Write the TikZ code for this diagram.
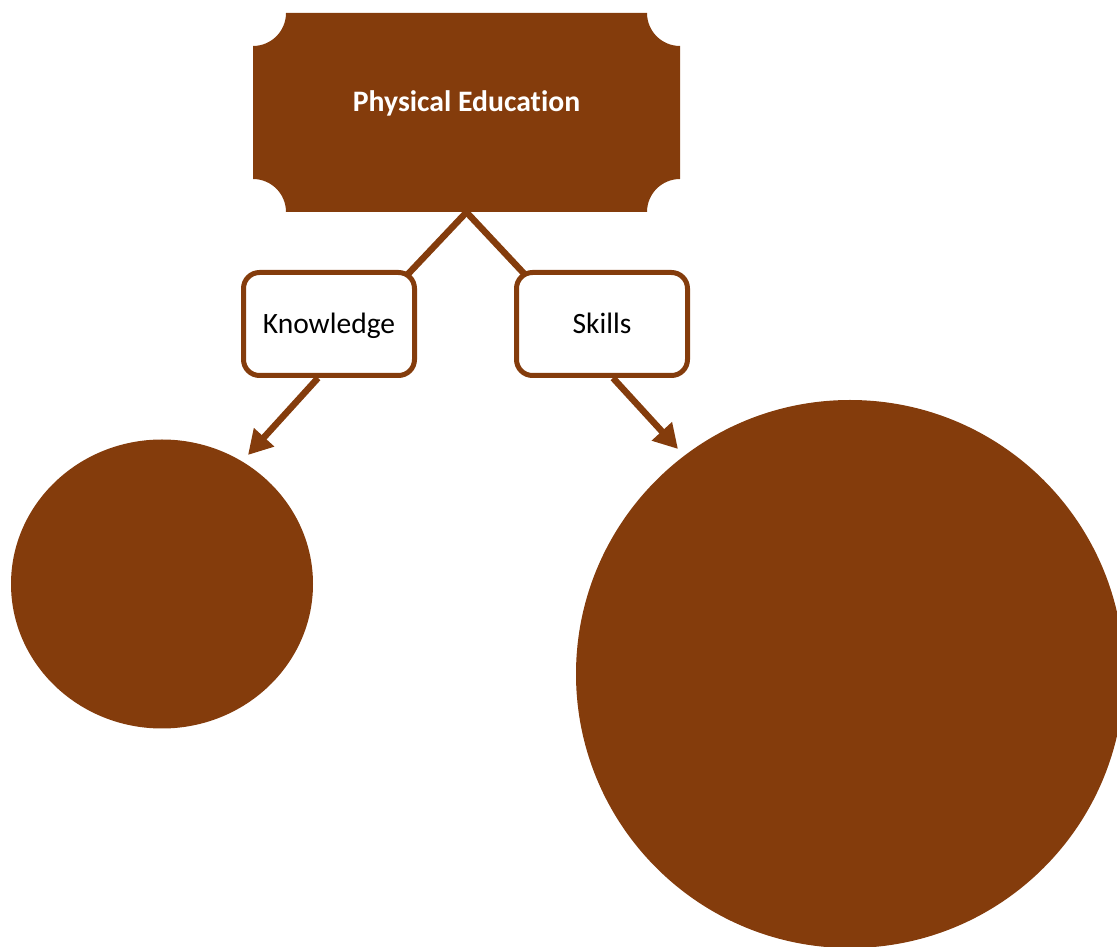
\documentclass[tikz,border=0pt]{standalone}
\usepackage{fontspec}
\setmainfont{Carlito}[Ligatures=NoCommon]
\usetikzlibrary{arrows.meta,calc,shapes.geometric}
\definecolor{brown}{HTML}{843C0C}
\tikzset{
  link/.style={draw=brown, line width=6.5pt},
  arrowlink/.style={draw=brown, line width=6.5pt, -{Triangle[length=24pt,width=26pt]}},
  labelbox/.style={draw=brown, fill=white, line width=5pt, rounded corners=16pt,
    minimum width=171pt, minimum height=103pt, inner sep=0pt,
    text height=26pt, text depth=6pt,
    font=\fontsize{29.5}{34}\selectfont, text=black},
  titletext/.style={font=\fontsize{29.7}{34}\selectfont\bfseries, text=white, inner sep=0pt},
  blob/.style={fill=brown, draw=none}
}
\begin{document}
\begin{tikzpicture}[x=1pt,y=1pt]
  \useasboundingbox (0,0) rectangle (1117,946);
  \clip (0,0) rectangle (1117,946);

  % title plate with concave corners
  \fill[brown] (286,933) -- (647,933) arc[start angle=180,end angle=270,radius=33]
    -- (680,767) arc[start angle=90,end angle=180,radius=33]
    -- (286,734) arc[start angle=0,end angle=90,radius=33]
    -- (253,900) arc[start angle=270,end angle=360,radius=33] -- cycle;
  \node[minimum width=427pt, minimum height=199pt, inner sep=0pt] (pe) at (466.5,833.5) {};
  \node[titletext] (petitle) at (466.5,843) {Physical Education};

  % positions of the category boxes
  \coordinate (knpos) at (329,622);
  \coordinate (skpos) at (602,622);
  \coordinate (knc) at ($(knpos)+(80.5,51.5)$);
  \coordinate (skc) at ($(skpos)+(-79,51.5)$);

  % branches from the title plate, running under the boxes
  \draw[link] (pe.south) -- ($(pe.south)!1.15!(knc)$);
  \draw[link] (pe.south) -- ($(pe.south)!1.15!(skc)$);

  % category boxes
  \node[labelbox] (kn) at (knpos) {Knowledge};
  \node[labelbox] (sk) at (skpos) {Skills};

  % outcome circles
  \node[blob, ellipse, minimum width=302pt, minimum height=289pt] (kc) at (162,362) {};
  \node[blob, circle, minimum size=548pt] (sc) at (850,272) {};

  % arrows from the boxes to the circles
  \coordinate (ktip) at (248,491);
  \coordinate (stip) at (678,497);
  \draw[arrowlink] ($(kn.south)+(-11,0)$) -- (ktip);
  \draw[arrowlink] ($(sk.south)+(11,0)$) -- (stip);
\end{tikzpicture}
\end{document}
